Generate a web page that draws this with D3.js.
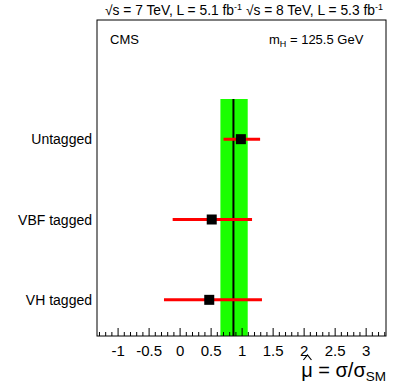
<!DOCTYPE html>
<html>
<head>
<meta charset="utf-8">
<script src="https://cdn.jsdelivr.net/npm/d3@7"></script>
<style>
  body { margin: 0; background: #fff; }
  text { font-family: "Liberation Sans", Arial, sans-serif; fill: #000; }
</style>
</head>
<body>
<svg id="canvas"></svg>
<script>
const categories = ['Untagged', 'VBF tagged', 'VH tagged'];
const muValues = [0.98, 0.51, 0.47];
const muLow = [0.70, -0.12, -0.26];
const muHigh = [1.29, 1.16, 1.32];
const combined = { mu: 0.86, low: 0.65, high: 1.09 };
const tickValues = [-1, -0.5, 0, 0.5, 1, 1.5, 2, 2.5, 3];

const width = 407;
const height = 391;
const frame = { left: 97, right: 386, top: 20, bottom: 336 };

const svg = d3.select('#canvas')
  .attr('width', width)
  .attr('height', height);

const x = d3.scaleLinear()
  .domain([-1.34, 3.32])
  .range([frame.left, frame.right]);

const y = d3.scalePoint()
  .domain(categories)
  .range([99, 340])
  .padding(0.5);

// combined band
svg.append('rect')
  .attr('x', x(combined.low))
  .attr('y', 99)
  .attr('width', x(combined.high) - x(combined.low))
  .attr('height', frame.bottom - 99)
  .attr('fill', '#1aff00');

svg.append('line')
  .attr('x1', x(combined.mu))
  .attr('x2', x(combined.mu))
  .attr('y1', 99)
  .attr('y2', frame.bottom)
  .attr('stroke', '#000')
  .attr('stroke-width', 2);

// minor / major ticks
const minor = d3.range(-13, 34).map(d => d / 10);
svg.append('g')
  .selectAll('line')
  .data(minor)
  .enter()
  .append('line')
  .attr('x1', d => x(d))
  .attr('x2', d => x(d))
  .attr('y1', frame.bottom)
  .attr('y2', d => Math.abs(d * 2 - Math.round(d * 2)) < 1e-6 ? frame.bottom - 8 : frame.bottom - 4)
  .attr('stroke', '#000')
  .attr('stroke-width', 1);

svg.append('g')
  .selectAll('text')
  .data(tickValues)
  .enter()
  .append('text')
  .attr('x', d => x(d))
  .attr('y', 356)
  .attr('text-anchor', 'middle')
  .attr('font-size', 15)
  .text(d => d);

// points with error bars
const rows = categories.map((c, i) => ({ c, mu: muValues[i], lo: muLow[i], hi: muHigh[i] }));

svg.append('g')
  .selectAll('line')
  .data(rows)
  .enter()
  .append('line')
  .attr('x1', d => x(d.lo))
  .attr('x2', d => x(d.hi))
  .attr('y1', d => y(d.c))
  .attr('y2', d => y(d.c))
  .attr('stroke', '#ff0000')
  .attr('stroke-width', 3);

svg.append('g')
  .selectAll('rect')
  .data(rows)
  .enter()
  .append('rect')
  .attr('x', d => x(d.mu) - 5)
  .attr('y', d => y(d.c) - 5)
  .attr('width', 10)
  .attr('height', 10)
  .attr('fill', '#000');

svg.append('g')
  .selectAll('text')
  .data(categories)
  .enter()
  .append('text')
  .attr('x', 92)
  .attr('y', d => y(d) + 5)
  .attr('text-anchor', 'end')
  .attr('font-size', 14)
  .text(d => d);

// frame
svg.append('rect')
  .attr('x', frame.left)
  .attr('y', frame.top)
  .attr('width', frame.right - frame.left)
  .attr('height', frame.bottom - frame.top)
  .attr('fill', 'none')
  .attr('stroke', '#000')
  .attr('stroke-width', 1);

// labels
svg.append('text')
  .attr('x', 110)
  .attr('y', 44)
  .attr('font-size', 13)
  .text('CMS');

const mh = svg.append('text')
  .attr('x', 269)
  .attr('y', 44)
  .attr('font-size', 13);
mh.append('tspan').text('m');
mh.append('tspan').attr('font-size', 9).attr('dy', 3).text('H');
mh.append('tspan').attr('dy', -3).text(' = 125.5 GeV');

const lumi = svg.append('text')
  .attr('x', 105)
  .attr('y', 15)
  .attr('font-size', 13.8);
lumi.append('tspan').text('\u221As = 7 TeV, L = 5.1 fb');
lumi.append('tspan').attr('font-size', 9).attr('dy', -5).text('-1');
lumi.append('tspan').attr('dy', 5).text('  \u221As = 8 TeV, L = 5.3 fb');
lumi.append('tspan').attr('font-size', 9).attr('dy', -5).text('-1');

const title = svg.append('text')
  .attr('x', 386)
  .attr('y', 377)
  .attr('text-anchor', 'end')
  .attr('font-size', 20);
title.append('tspan').text('\u03BC = \u03C3/\u03C3');
title.append('tspan').attr('font-size', 13.5).attr('dy', 4).text('SM');

// hat over mu
const box = title.node().getBBox();
const muW = title.node().getSubStringLength(0, 1);
const hx = box.x + muW / 2 + 0.5;
svg.append('path')
  .attr('d', `M${hx - 4},${360} L${hx},${355} L${hx + 4},${360}`)
  .attr('fill', 'none')
  .attr('stroke', '#000')
  .attr('stroke-width', 1.2);
</script>
</body>
</html>
